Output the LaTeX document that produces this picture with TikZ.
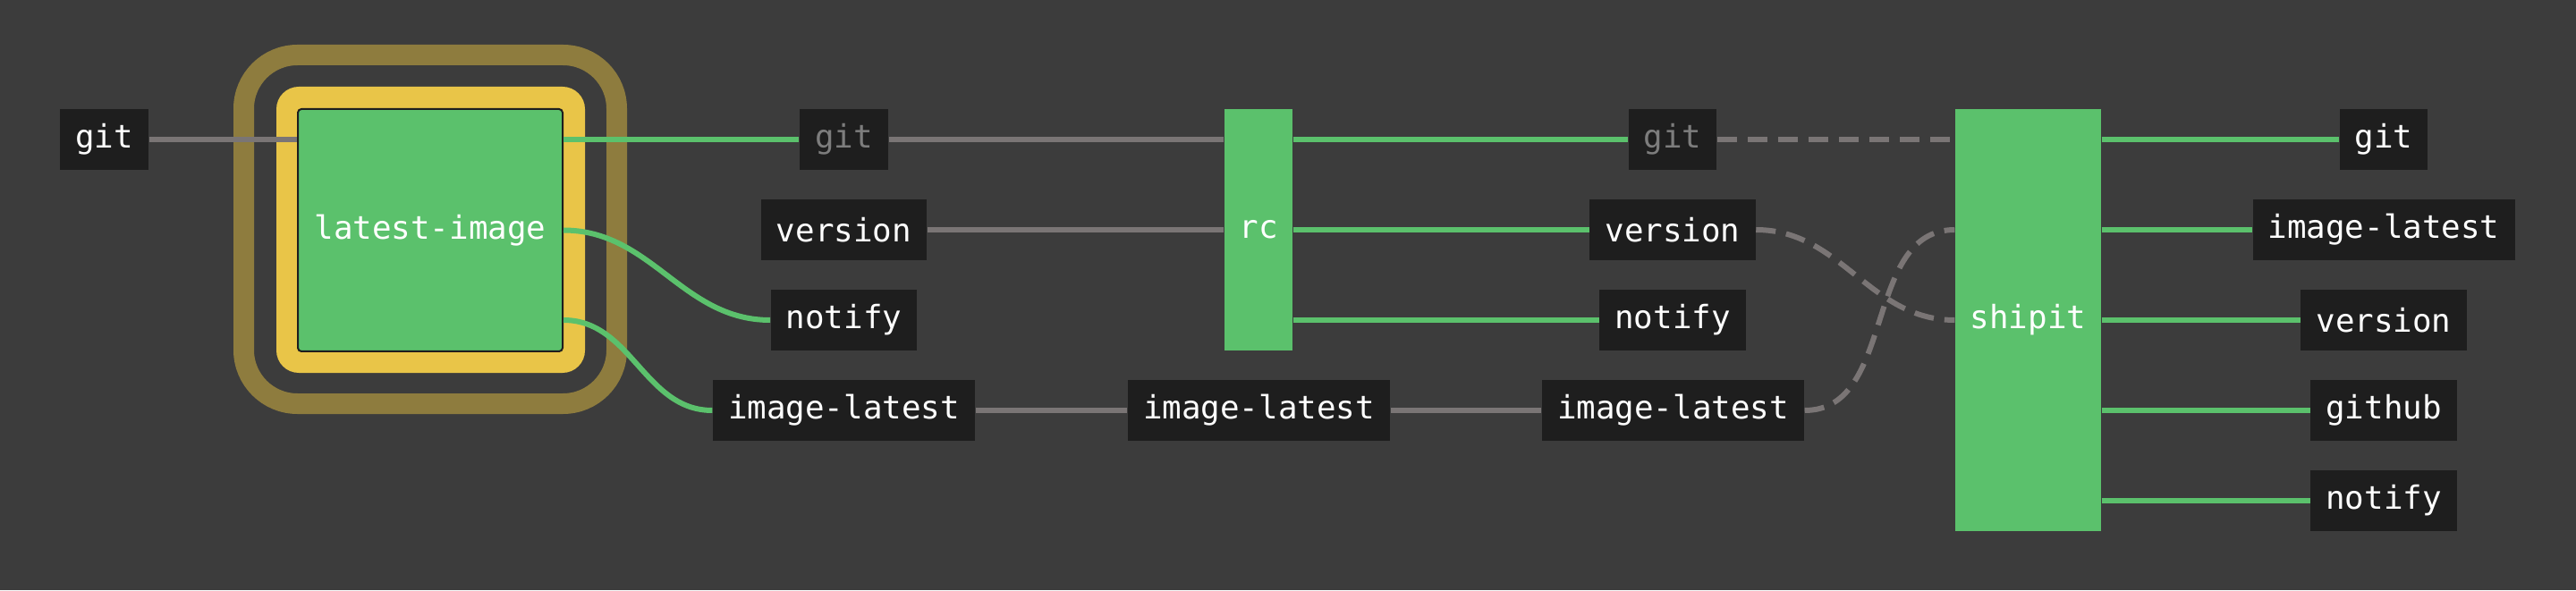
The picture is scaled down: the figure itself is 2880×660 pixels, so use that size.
\documentclass[tikz,border=0pt]{standalone}
\usepackage{fontspec}
\setmonofont{DejaVu Sans Mono}
\usepackage{tikz}
\usetikzlibrary{%
	calc,%
	positioning
}
\definecolor{bg}{HTML}{3C3C3C}
\definecolor{ringolive}{HTML}{8E7C3E}
\definecolor{ringyellow}{HTML}{E9C548}
\definecolor{jobgreen}{HTML}{5BC16C}
\definecolor{resbox}{HTML}{1E1E1E}
\definecolor{wire}{HTML}{7A7575}
\definecolor{faded}{HTML}{7D7D7D}

\begin{document}
\begin{tikzpicture}[x=0.1mm,y=0.1mm,
		res/.style={fill=resbox,text=white,minimum height=6.8mm,inner xsep=1.7mm,
			font=\ttfamily\fontsize{10.2}{12}\selectfont},
		job/.style={fill=jobgreen,text=white,inner sep=0pt,
			font=\ttfamily\fontsize{10.2}{12}\selectfont},
		pass/.style={wire,line width=0.6mm},
		feed/.style={jobgreen,line width=0.6mm},
		trig/.style={wire,line width=0.6mm,dash pattern=on 2.2mm off 1.2mm}
	]
		% Background
		\fill[bg] (0,0) rectangle (2880,660);
		\useasboundingbox (0,0) rectangle (2880,660);
		
		% Rings round the running job
		\draw[ringolive,line width=2.3mm,rounded corners=6mm] (272.5,208.5) rectangle (689.5,598.5);
		\fill[ringyellow,rounded corners=2.5mm] (309,243) rectangle (654,563);
		\node[job,draw=resbox,line width=0.2mm,rounded corners=0.4mm,minimum width=29.6mm,minimum height=27.1mm] (latest) at (481,402.5) {latest-image};
		
		% Resources
		\node[res] (gitA) at (116.5,504) {git};
		\node[res,text=faded] (gitB) at (943.5,504) {git};
		\node[res] (versionB) at (943.5,403) {version};
		\node[res] (notifyB) at (943.5,302) {notify};
		\node[res] (imgB) at (943.5,201) {image-latest};
		\node[res] (imgC) at (1407.5,201) {image-latest};
		\node[res,text=faded] (gitD) at (1870,504) {git};
		\node[res] (versionD) at (1870,403) {version};
		\node[res] (notifyD) at (1870,302) {notify};
		\node[res] (imgD) at (1870.5,201) {image-latest};
		\node[res] (gitE) at (2665,504) {git};
		\node[res] (imgE) at (2665,403) {image-latest};
		\node[res] (versionE) at (2665,302) {version};
		\node[res] (githubE) at (2665,201) {github};
		\node[res] (notifyE) at (2665,100) {notify};
		
		% Jobs
		\node[job,minimum width=7.6mm,minimum height=27mm] (rc) at (1407,403) {rc};
		\node[job,minimum width=16.3mm,minimum height=47.2mm] (shipit) at (2267.5,302) {shipit};
		
		% Inputs and outputs of latest-image
		\draw[pass] (gitA.east) -- (latest.west |- gitA.east);
		\draw[feed] (latest.east |- gitB.west) -- (gitB.west);
		\draw[feed] (latest.east) to[out=0,in=180] (notifyB.west);
		\draw[feed] (latest.east |- notifyB.west) to[out=0,in=180] (imgB.west);
		
		% rc
		\draw[pass] (gitB.east) -- (rc.west |- gitB.east);
		\draw[pass] (versionB.east) -- (rc.west);
		\draw[pass] (imgB.east) -- (imgC.west);
		\draw[pass] (imgC.east) -- (imgD.west);
		\draw[feed] (rc.east |- gitD.west) -- (gitD.west);
		\draw[feed] (rc.east) -- (versionD.west);
		\draw[feed] (rc.east |- notifyD.west) -- (notifyD.west);
		
		% shipit
		\draw[trig] (gitD.east) -- (shipit.west |- gitD.east);
		\draw[trig] (versionD.east) to[out=0,in=180] (shipit.west |- notifyD.east);
		\draw[trig] (imgD.east) to[out=0,in=180] (shipit.west |- versionD.east);
		\draw[feed] (shipit.east |- gitE.west) -- (gitE.west);
		\draw[feed] (shipit.east |- imgE.west) -- (imgE.west);
		\draw[feed] (shipit.east) -- (versionE.west);
		\draw[feed] (shipit.east |- githubE.west) -- (githubE.west);
		\draw[feed] (shipit.east |- notifyE.west) -- (notifyE.west);
	\end{tikzpicture}
\end{document}
